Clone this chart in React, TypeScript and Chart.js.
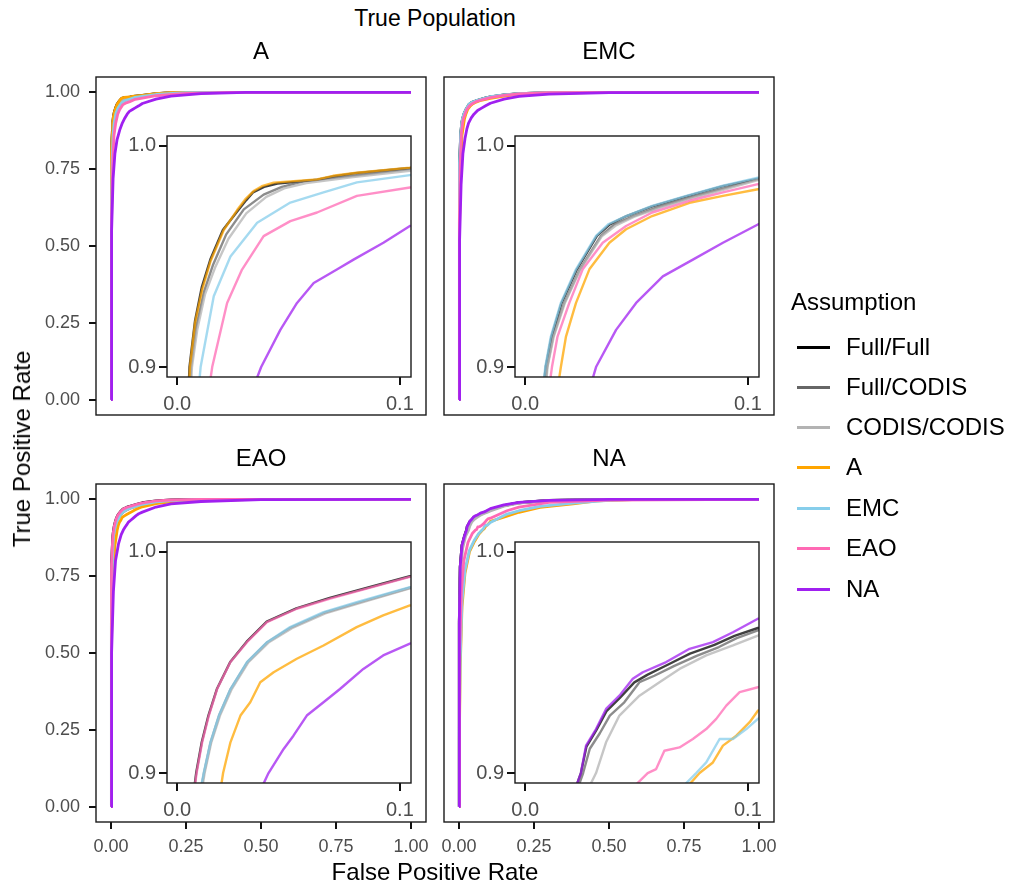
import React, { useEffect, useRef } from "react";
import { Chart, registerables } from "chart.js";

Chart.register(...registerables);

type Pt = [number, number];

// ---------- labels / categories ----------
const SERIES_NAMES = ["Full/Full", "Full/CODIS", "CODIS/CODIS", "A", "EMC", "EAO", "NA"];
const SERIES_COLORS = ["#000000", "#666666", "#B3B3B3", "#FFA500", "#87CEEB", "#FF69B4", "#A020F0"];
const PANEL_TITLES = ["A", "EMC", "EAO", "NA"];
const MAIN_TICKS = [0, 0.25, 0.5, 0.75, 1];
const INSET_X_TICKS = [0, 0.1];
const INSET_Y_TICKS = [0.9, 1.0];

// ---------- True population A : [FPR, TPR] ----------
const A_FULL_FULL: Pt[] = [[0,0],[0.0005,0.36],[0.0015,0.66],[0.003,0.81],[0.0045,0.875],[0.0055,0.9],[0.008,0.921],[0.011,0.936],[0.015,0.949],[0.0205,0.962],[0.027,0.9705],[0.031,0.9755],[0.034,0.979],[0.039,0.9815],[0.045,0.983],[0.063,0.9847],[0.07,0.9862],[0.08,0.9877],[0.1045,0.99],[0.15,0.996],[0.2,0.999],[0.3,1],[1,1]];
const A_FULL_CODIS: Pt[] = [[0,0],[0.0005,0.34],[0.0015,0.64],[0.003,0.79],[0.0048,0.87],[0.0062,0.9],[0.0085,0.918],[0.012,0.934],[0.016,0.946],[0.022,0.96],[0.0299,0.9713],[0.0388,0.978],[0.047,0.9815],[0.0567,0.984],[0.0776,0.9864],[0.1045,0.9895],[0.15,0.995],[0.2,0.999],[0.3,1],[1,1]];
const A_CODIS_CODIS: Pt[] = [[0,0],[0.0005,0.33],[0.0015,0.63],[0.003,0.78],[0.005,0.865],[0.0066,0.9],[0.009,0.917],[0.0125,0.933],[0.017,0.945],[0.023,0.958],[0.031,0.9695],[0.04,0.977],[0.048,0.9808],[0.058,0.9832],[0.078,0.9858],[0.1045,0.9888],[0.15,0.995],[0.2,0.999],[0.3,1],[1,1]];
const A_A: Pt[] = [[0,0],[0.0005,0.35],[0.0015,0.65],[0.003,0.8],[0.0045,0.87],[0.0057,0.9],[0.008,0.92],[0.0112,0.935],[0.015,0.948],[0.0209,0.962],[0.0269,0.971],[0.0305,0.9758],[0.0343,0.9796],[0.038,0.9818],[0.0433,0.9834],[0.0627,0.9849],[0.07,0.9865],[0.0806,0.9879],[0.1045,0.9902],[0.15,0.996],[0.2,0.999],[0.3,1],[1,1]];
const A_EMC: Pt[] = [[0,0],[0.0008,0.3],[0.002,0.6],[0.004,0.78],[0.007,0.86],[0.0105,0.9],[0.0164,0.932],[0.0239,0.95],[0.0359,0.9653],[0.0508,0.9744],[0.0657,0.979],[0.0807,0.9835],[0.1045,0.9868],[0.15,0.993],[0.25,0.999],[0.35,1],[1,1]];
const A_EAO: Pt[] = [[0,0],[0.001,0.3],[0.003,0.6],[0.006,0.78],[0.01,0.86],[0.0157,0.9],[0.0224,0.929],[0.0291,0.9441],[0.0388,0.9592],[0.0508,0.966],[0.0628,0.9699],[0.0807,0.9774],[0.1045,0.9812],[0.15,0.989],[0.25,0.997],[0.4,1],[1,1]];
const A_NA: Pt[] = [[0,0],[0.001,0.25],[0.003,0.55],[0.007,0.72],[0.013,0.8],[0.02,0.845],[0.03,0.88],[0.0377,0.9],[0.0463,0.9168],[0.0538,0.929],[0.0613,0.938],[0.0717,0.9441],[0.0792,0.9486],[0.0926,0.9562],[0.1045,0.9638],[0.15,0.978],[0.2,0.988],[0.3,0.996],[0.45,1],[1,1]];

// ---------- True population EMC ----------
const E_FULL_FULL: Pt[] = [[0,0],[0.0005,0.3],[0.0015,0.6],[0.003,0.77],[0.006,0.87],[0.0092,0.9],[0.0118,0.9138],[0.0163,0.929],[0.0232,0.9442],[0.0322,0.9593],[0.038,0.9645],[0.0455,0.9683],[0.057,0.9727],[0.0723,0.9772],[0.0888,0.9818],[0.1045,0.9852],[0.15,0.992],[0.2,0.996],[0.3,0.999],[0.5,1],[1,1]];
const E_FULL_CODIS: Pt[] = [[0,0],[0.0006,0.29],[0.0017,0.59],[0.0033,0.76],[0.0065,0.865],[0.0098,0.9],[0.0125,0.9138],[0.0175,0.929],[0.0245,0.9442],[0.034,0.9593],[0.04,0.9645],[0.0485,0.9683],[0.06,0.9725],[0.075,0.977],[0.09,0.981],[0.1045,0.985],[0.15,0.991],[0.2,0.996],[0.3,0.999],[0.5,1],[1,1]];
const E_CODIS_CODIS: Pt[] = [[0,0],[0.0006,0.28],[0.0018,0.58],[0.0035,0.755],[0.0068,0.862],[0.01,0.9],[0.0128,0.9138],[0.0178,0.929],[0.0248,0.9442],[0.0345,0.9593],[0.041,0.9642],[0.049,0.968],[0.061,0.9722],[0.076,0.9767],[0.091,0.9807],[0.1045,0.9846],[0.15,0.991],[0.2,0.996],[0.3,0.999],[0.5,1],[1,1]];
const E_A: Pt[] = [[0,0],[0.0008,0.27],[0.0025,0.56],[0.005,0.74],[0.01,0.86],[0.016,0.9],[0.0183,0.9138],[0.0228,0.929],[0.0288,0.9442],[0.0378,0.9562],[0.0453,0.9623],[0.057,0.9683],[0.0738,0.9743],[0.0888,0.9774],[0.1045,0.9804],[0.15,0.988],[0.2,0.994],[0.3,0.998],[0.5,1],[1,1]];
const E_EMC: Pt[] = [[0,0],[0.0005,0.3],[0.0015,0.6],[0.003,0.77],[0.006,0.87],[0.009,0.9],[0.0115,0.9138],[0.016,0.929],[0.0228,0.9442],[0.0318,0.9593],[0.0375,0.9647],[0.0453,0.9683],[0.057,0.9729],[0.0723,0.9774],[0.0888,0.982],[0.1045,0.9857],[0.15,0.992],[0.2,0.996],[0.3,0.999],[0.5,1],[1,1]];
const E_EAO: Pt[] = [[0,0],[0.0006,0.28],[0.002,0.58],[0.004,0.76],[0.008,0.87],[0.012,0.9],[0.0145,0.9138],[0.0198,0.929],[0.0258,0.9442],[0.0348,0.9562],[0.0453,0.9638],[0.057,0.9699],[0.0738,0.9752],[0.0888,0.979],[0.1045,0.9827],[0.15,0.99],[0.2,0.995],[0.3,0.999],[0.5,1],[1,1]];
const E_NA: Pt[] = [[0,0],[0.001,0.25],[0.003,0.52],[0.007,0.7],[0.013,0.8],[0.02,0.85],[0.026,0.88],[0.0318,0.9],[0.0408,0.9168],[0.0498,0.929],[0.0618,0.941],[0.0753,0.9486],[0.0888,0.9562],[0.1045,0.9645],[0.15,0.978],[0.2,0.987],[0.3,0.994],[0.5,0.999],[1,1]];

// ---------- True population EAO ----------
const EA_FULL_FULL: Pt[] = [[0,0],[0.0005,0.32],[0.0015,0.62],[0.003,0.79],[0.006,0.88],[0.0085,0.9],[0.011,0.9139],[0.014,0.926],[0.0178,0.938],[0.0238,0.9502],[0.0312,0.9594],[0.0402,0.9685],[0.0535,0.9745],[0.0685,0.9792],[0.085,0.9837],[0.1045,0.989],[0.15,0.995],[0.2,0.998],[0.3,1],[1,1]];
const EA_FULL_CODIS: Pt[] = [[0,0],[0.0006,0.3],[0.002,0.6],[0.004,0.78],[0.008,0.878],[0.012,0.9],[0.015,0.9139],[0.0188,0.926],[0.024,0.938],[0.0315,0.9502],[0.0405,0.9592],[0.051,0.9658],[0.066,0.9725],[0.081,0.977],[0.1045,0.9838],[0.15,0.992],[0.2,0.996],[0.3,0.999],[0.5,1],[1,1]];
const EA_CODIS_CODIS: Pt[] = [[0,0],[0.0006,0.29],[0.002,0.59],[0.0042,0.775],[0.0083,0.875],[0.0123,0.9],[0.0153,0.9139],[0.0192,0.926],[0.0245,0.938],[0.032,0.9502],[0.041,0.959],[0.0515,0.9655],[0.0665,0.9722],[0.0815,0.9767],[0.1045,0.9835],[0.15,0.992],[0.2,0.996],[0.3,0.999],[0.5,1],[1,1]];
const EA_A: Pt[] = [[0,0],[0.001,0.28],[0.003,0.56],[0.007,0.75],[0.013,0.85],[0.0206,0.9],[0.0239,0.9139],[0.0284,0.926],[0.0328,0.932],[0.0373,0.9411],[0.0433,0.9456],[0.0537,0.9517],[0.0657,0.9577],[0.0806,0.966],[0.0925,0.9713],[0.1045,0.9758],[0.15,0.986],[0.2,0.992],[0.3,0.997],[0.5,1],[1,1]];
const EA_EMC: Pt[] = [[0,0],[0.0006,0.3],[0.002,0.6],[0.004,0.78],[0.008,0.88],[0.0119,0.9],[0.0149,0.9139],[0.0187,0.926],[0.0239,0.938],[0.0313,0.9502],[0.0403,0.9592],[0.0507,0.966],[0.0657,0.9728],[0.0806,0.9773],[0.1045,0.9841],[0.15,0.992],[0.2,0.996],[0.3,0.999],[0.5,1],[1,1]];
const EA_EAO: Pt[] = [[0,0],[0.0005,0.32],[0.0015,0.62],[0.003,0.79],[0.006,0.88],[0.0087,0.9],[0.0112,0.9139],[0.0142,0.926],[0.0179,0.938],[0.0239,0.9502],[0.0313,0.9592],[0.0403,0.9683],[0.0537,0.9743],[0.0687,0.9789],[0.0851,0.9834],[0.1045,0.9887],[0.15,0.995],[0.2,0.998],[0.3,1],[1,1]];
const EA_NA: Pt[] = [[0,0],[0.001,0.25],[0.003,0.5],[0.008,0.7],[0.015,0.8],[0.025,0.855],[0.034,0.885],[0.041,0.9],[0.0478,0.9109],[0.0522,0.9169],[0.0582,0.926],[0.0657,0.932],[0.0731,0.938],[0.0836,0.9471],[0.0925,0.9532],[0.1045,0.9585],[0.15,0.975],[0.2,0.985],[0.3,0.993],[0.5,0.999],[1,1]];

// ---------- True population NA ----------
const N_FULL_FULL: Pt[] = [[0,0],[0.0005,0.3],[0.0015,0.6],[0.004,0.78],[0.01,0.85],[0.018,0.88],[0.025,0.9],[0.0275,0.912],[0.032,0.9195],[0.0365,0.928],[0.0425,0.934],[0.049,0.941],[0.055,0.9445],[0.064,0.949],[0.074,0.954],[0.085,0.958],[0.094,0.962],[0.1045,0.9656],[0.15,0.98],[0.2,0.989],[0.3,0.997],[0.5,1],[1,1]];
const N_FULL_CODIS: Pt[] = [[0,0],[0.0005,0.3],[0.0015,0.6],[0.004,0.78],[0.01,0.85],[0.019,0.88],[0.026,0.9],[0.029,0.911],[0.0335,0.918],[0.038,0.926],[0.0445,0.932],[0.0513,0.9411],[0.058,0.944],[0.067,0.9485],[0.077,0.953],[0.087,0.957],[0.095,0.961],[0.1045,0.9645],[0.15,0.98],[0.2,0.989],[0.3,0.997],[0.5,1],[1,1]];
const N_CODIS_CODIS: Pt[] = [[0,0],[0.0006,0.28],[0.002,0.58],[0.005,0.76],[0.012,0.84],[0.022,0.88],[0.0318,0.9],[0.0363,0.9139],[0.0423,0.926],[0.0513,0.935],[0.0603,0.9411],[0.0693,0.9471],[0.0813,0.9532],[0.0933,0.9577],[0.1045,0.9622],[0.15,0.978],[0.2,0.988],[0.3,0.996],[0.5,1],[1,1]];
const N_A: Pt[] = [[0,0],[0.0012,0.22],[0.004,0.45],[0.01,0.65],[0.02,0.76],[0.035,0.83],[0.05,0.86],[0.065,0.885],[0.0783,0.9],[0.0843,0.9048],[0.0888,0.9124],[0.0948,0.9169],[0.1008,0.923],[0.1045,0.9282],[0.16,0.945],[0.2,0.958],[0.27,0.974],[0.38,0.985],[0.46,0.995],[0.6,1],[1,1]];
const N_EMC: Pt[] = [[0,0],[0.001,0.24],[0.004,0.48],[0.01,0.67],[0.02,0.77],[0.035,0.835],[0.05,0.865],[0.065,0.888],[0.0768,0.9],[0.0813,0.9048],[0.0873,0.9154],[0.0933,0.9154],[0.0993,0.9199],[0.1045,0.9245],[0.16,0.952],[0.2,0.963],[0.27,0.977],[0.38,0.988],[0.5,0.997],[0.6,1],[1,1]];
const N_EAO: Pt[] = [[0,0],[0.001,0.25],[0.003,0.5],[0.008,0.7],[0.016,0.8],[0.03,0.86],[0.045,0.89],[0.055,0.9],[0.0588,0.9018],[0.0625,0.9101],[0.0693,0.9116],[0.0753,0.9154],[0.0813,0.9199],[0.0858,0.9245],[0.0903,0.9305],[0.0963,0.9366],[0.1045,0.9388],[0.16,0.963],[0.2,0.975],[0.3,0.99],[0.5,0.998],[1,1]];
const N_NA: Pt[] = [[0,0],[0.0005,0.3],[0.0015,0.6],[0.004,0.78],[0.01,0.85],[0.018,0.88],[0.025,0.9],[0.0273,0.9124],[0.0318,0.9199],[0.0363,0.929],[0.0423,0.935],[0.0483,0.9426],[0.0528,0.9456],[0.0633,0.9502],[0.0738,0.9562],[0.0843,0.9592],[0.0933,0.9637],[0.1045,0.9698],[0.15,0.982],[0.2,0.99],[0.3,0.997],[0.5,1],[1,1]];

const PANEL_SERIES: Pt[][][] = [
  [A_FULL_FULL, A_FULL_CODIS, A_CODIS_CODIS, A_A, A_EMC, A_EAO, A_NA],
  [E_FULL_FULL, E_FULL_CODIS, E_CODIS_CODIS, E_A, E_EMC, E_EAO, E_NA],
  [EA_FULL_FULL, EA_FULL_CODIS, EA_CODIS_CODIS, EA_A, EA_EMC, EA_EAO, EA_NA],
  [N_FULL_FULL, N_FULL_CODIS, N_CODIS_CODIS, N_A, N_EMC, N_EAO, N_NA],
];

// ---------- layout ----------
const FONT = '"Liberation Sans", Arial, Helvetica, sans-serif';
const BOX_W = 330;
const BOX_H = 338;
const PANEL_POS = [
  { left: 96, top: 77, showX: false, showY: true, insetTop: 59 },
  { left: 444, top: 77, showX: false, showY: false, insetTop: 59 },
  { left: 96, top: 484, showX: true, showY: true, insetTop: 58 },
  { left: 444, top: 484, showX: true, showY: false, insetTop: 58 },
];
const INSET_DX = 71;
const INSET_W = 244;
const INSET_H = 241;

function rgba(hex: string, a: number) {
  const n = parseInt(hex.slice(1), 16);
  return `rgba(${(n >> 16) & 255},${(n >> 8) & 255},${n & 255},${a})`;
}

function makeDatasets(series: Pt[][], width: number, alpha: number, clip?: number) {
  return series.map((pts, i) => ({
    label: SERIES_NAMES[i],
    data: pts.map(([x, y]) => ({ x, y })),
    borderColor: rgba(SERIES_COLORS[i], alpha),
    borderWidth: width,
    borderJoinStyle: "round",
    pointRadius: 0,
    fill: false,
    tension: 0,
    order: series.length - i,
    ...(clip !== undefined ? { clip } : {}),
  }));
}

function framePlugin(fillWhite: boolean) {
  return {
    id: "frame",
    beforeDatasetsDraw(chart: any) {
      if (!fillWhite) return;
      const { ctx, chartArea: a } = chart;
      ctx.save();
      ctx.fillStyle = "#ffffff";
      ctx.fillRect(a.left, a.top, a.right - a.left, a.bottom - a.top);
      ctx.restore();
    },
    afterDatasetsDraw(chart: any) {
      const { ctx, chartArea: a } = chart;
      ctx.save();
      ctx.strokeStyle = "#1a1a1a";
      ctx.lineWidth = 1.4;
      ctx.strokeRect(a.left, a.top, a.right - a.left, a.bottom - a.top);
      ctx.restore();
    },
  };
}

function axisCfg(opts: {
  min: number; max: number; ticks: number[]; show: boolean; digits: number;
  size: number; tickLen: number; pad: number; fit?: (s: any) => void;
}) {
  const cfg: any = {
    type: "linear",
    min: opts.min,
    max: opts.max,
    display: opts.show,
    afterBuildTicks: (s: any) => { s.ticks = opts.ticks.map((v) => ({ value: v })); },
    ticks: {
      callback: (v: any) => Number(v).toFixed(opts.digits),
      font: { family: FONT, size: opts.size },
      color: "#4D4D4D",
      padding: opts.pad,
      maxRotation: 0,
      autoSkip: false,
    },
    grid: { drawOnChartArea: false, drawTicks: true, tickLength: opts.tickLen, color: "#111111", lineWidth: 2 },
    border: { display: false },
  };
  if (opts.show && opts.fit) cfg.afterFit = opts.fit;
  return cfg;
}

function MainPlot({ idx }: { idx: number }) {
  const ref = useRef<HTMLCanvasElement>(null);
  const p = PANEL_POS[idx];
  const padL = p.showY ? 96 : 20;
  const padB = p.showX ? 50 : 20;
  const W = padL + BOX_W + 20;
  const H = 20 + BOX_H + padB;
  useEffect(() => {
    const chart = new Chart(ref.current as HTMLCanvasElement, {
      type: "line",
      data: { datasets: makeDatasets(PANEL_SERIES[idx], 2.8, 1) as any },
      options: {
        responsive: false,
        animation: false,
        devicePixelRatio: 1,
        events: [],
        layout: { padding: { top: 20, right: 20, bottom: p.showX ? 0 : 20, left: p.showY ? 0 : 20 } },
        plugins: { legend: { display: false }, tooltip: { enabled: false } },
        scales: {
          x: axisCfg({ min: -0.05, max: 1.05, ticks: MAIN_TICKS, show: p.showX, digits: 2, size: 18, tickLen: 7, pad: 7, fit: (s) => { s.height = 50; } }),
          y: axisCfg({ min: -0.05, max: 1.05, ticks: MAIN_TICKS, show: p.showY, digits: 2, size: 18, tickLen: 7, pad: 9, fit: (s) => { s.width = 96; } }),
        },
      } as any,
      plugins: [framePlugin(false)],
    });
    return () => chart.destroy();
  }, []);
  return (
    <canvas
      ref={ref}
      width={W}
      height={H}
      style={{ position: "absolute", left: p.left - padL, top: p.top - 20, width: W, height: H, display: "block" }}
    />
  );
}

function InsetPlot({ idx }: { idx: number }) {
  const ref = useRef<HTMLCanvasElement>(null);
  const p = PANEL_POS[idx];
  const left = p.left + INSET_DX;
  const top = p.top + p.insetTop;
  const padL = 52;
  const padB = 42;
  const W = padL + INSET_W + 16;
  const H = 16 + INSET_H + padB;
  useEffect(() => {
    const chart = new Chart(ref.current as HTMLCanvasElement, {
      type: "line",
      data: { datasets: makeDatasets(PANEL_SERIES[idx], 2.4, 0.75, 0) as any },
      options: {
        responsive: false,
        animation: false,
        devicePixelRatio: 1,
        events: [],
        layout: { padding: { top: 16, right: 16, bottom: 0, left: 0 } },
        plugins: { legend: { display: false }, tooltip: { enabled: false } },
        scales: {
          x: axisCfg({ min: -0.0046, max: 0.105, ticks: INSET_X_TICKS, show: true, digits: 1, size: 20, tickLen: 8, pad: 7, fit: (s) => { s.height = padB; } }),
          y: axisCfg({ min: 0.8955, max: 1.0045, ticks: INSET_Y_TICKS, show: true, digits: 1, size: 20, tickLen: 8, pad: 3, fit: (s) => { s.width = padL; } }),
        },
      } as any,
      plugins: [framePlugin(true)],
    });
    return () => chart.destroy();
  }, []);
  return (
    <canvas
      ref={ref}
      width={W}
      height={H}
      style={{ position: "absolute", left: left - padL, top: top - 16, width: W, height: H, display: "block" }}
    />
  );
}

function Txt(props: { x: number; y: number; size: number; text: string; align?: "center" | "left"; rotate?: boolean }) {
  const { x, y, size, text, align = "center", rotate = false } = props;
  const tx = align === "center" ? "-50%" : "0";
  return (
    <div
      style={{
        position: "absolute",
        left: x,
        top: y,
        transform: `translate(${tx}, -50%)${rotate ? " rotate(-90deg)" : ""}`,
        transformOrigin: "center center",
        fontFamily: FONT,
        fontSize: size,
        lineHeight: 1,
        whiteSpace: "nowrap",
        color: "#000",
      }}
    >
      {text}
    </div>
  );
}

const LEGEND_Y = [347, 387, 427, 467, 508, 548, 589];

export default function App() {
  return (
    <div style={{ position: "absolute", left: 0, top: 0, width: 1011, height: 885, background: "#fff", overflow: "hidden" }}>
      {PANEL_POS.map((_, i) => <MainPlot key={"m" + i} idx={i} />)}
      {PANEL_POS.map((_, i) => <InsetPlot key={"i" + i} idx={i} />)}
      <Txt x={435} y={18} size={23} text="True Population" />
      {PANEL_POS.map((p, i) => (
        <Txt key={"t" + i} x={p.left + BOX_W / 2} y={p.top - 26} size={24} text={PANEL_TITLES[i]} />
      ))}
      <Txt x={435} y={872} size={24} text="False Positive Rate" />
      <div style={{ position: "absolute", left: 22, top: 449, width: 0, height: 0 }}>
        <Txt x={0} y={0} size={24} text="True Positive Rate" rotate />
      </div>
      <Txt x={791} y={302} size={24} text="Assumption" align="left" />
      {SERIES_NAMES.map((n, i) => (
        <React.Fragment key={"l" + i}>
          <div style={{ position: "absolute", left: 797, top: LEGEND_Y[i] - 1.5, width: 33, height: 3, background: SERIES_COLORS[i] }} />
          <Txt x={846} y={LEGEND_Y[i]} size={24} text={n} align="left" />
        </React.Fragment>
      ))}
    </div>
  );
}
